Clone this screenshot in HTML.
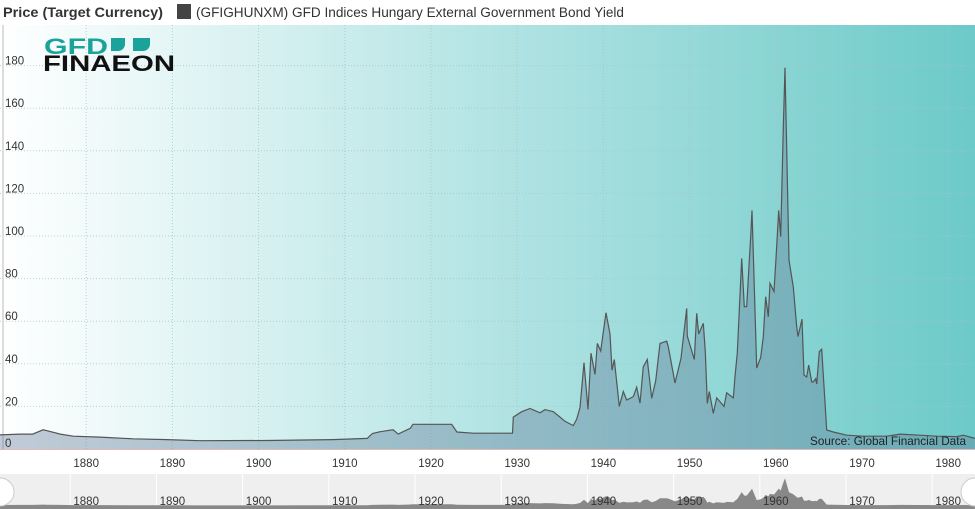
<!DOCTYPE html>
<html><head><meta charset="utf-8">
<style>
body{margin:0;width:975px;height:509px;overflow:hidden;background:#fff;font-family:"Liberation Sans",Verdana,sans-serif}
svg{display:block}
</style></head>
<body>
<svg id="chart" width="975" height="509" viewBox="0 0 975 509" xmlns="http://www.w3.org/2000/svg">
<defs>
<linearGradient id="bg" x1="0" y1="0" x2="1" y2="0">
<stop offset="0" stop-color="#ffffff"/>
<stop offset="0.5" stop-color="#b4e4e4"/>
<stop offset="1" stop-color="#6ccac8"/>
</linearGradient>
</defs>
<rect x="0" y="25" width="975" height="424" fill="url(#bg)"/>
<g id="grid"></g>
<rect x="2" y="25" width="2" height="424" fill="#ddd"/>
<g id="area"></g>
<line x1="0" y1="449.5" x2="975" y2="449.5" stroke="#e0b8b8" stroke-width="1"/>
<g id="ylabels"></g>
<g id="xlabels"></g>
<rect x="0" y="474" width="975" height="35" fill="#efefef"/>
<g id="nav"></g>
<circle cx="0" cy="492" r="14" fill="#fff" stroke="#ccc"/>
<circle cx="975" cy="492" r="14" fill="#fff" stroke="#ccc"/>
<text x="3" y="17" font-size="14" font-weight="bold" fill="#333" textLength="160" lengthAdjust="spacingAndGlyphs">Price (Target Currency)</text>
<rect x="177" y="4" width="14" height="15" fill="#444"/>
<text x="196" y="17" font-size="13.5" fill="#333" textLength="428" lengthAdjust="spacingAndGlyphs">(GFIGHUNXM) GFD Indices Hungary External Government Bond Yield</text>
<g>
<text x="44" y="54" font-size="22" font-weight="bold" fill="#1aa39a" textLength="64" lengthAdjust="spacingAndGlyphs">GFD</text>
<path d="M111 38 h14 v6 a7 7 0 0 1 -7 7 h-7z M133 38 h17 v6 a7 7 0 0 1 -7 7 h-10z" fill="#1aa39a"/>
<text x="43" y="71" font-size="22" font-weight="bold" fill="#111" textLength="132" lengthAdjust="spacingAndGlyphs">FINAEON</text>
</g>
<text x="810" y="445" font-size="12" fill="#222" textLength="156" lengthAdjust="spacingAndGlyphs">Source: Global Financial Data</text>
</svg>
<script>
const years=[1870,1872.3,1873.8,1875.0,1875.45,1877.0,1878.5,1881.6,1885.4,1889.4,1893.2,1901.0,1908.6,1912.6,1913.2,1914.1,1915.6,1916.2,1917.6,1917.9,1922.4,1923.0,1924.9,1929.45,1929.55,1930.52,1931.48,1932.65,1933.22,1934.19,1934.97,1935.55,1936.51,1936.90,1937.29,1937.75,1938.21,1938.56,1939.03,1939.29,1939.69,1940.30,1940.77,1941.00,1941.26,1941.84,1942.31,1942.70,1943.47,1943.86,1944.25,1944.63,1945.09,1945.60,1946.07,1946.57,1947.34,1947.53,1948.31,1949.00,1949.66,1949.73,1950.55,1950.82,1951.05,1951.59,1951.82,1952.05,1952.28,1952.75,1953.14,1953.99,1954.30,1955.07,1955.27,1955.53,1956.04,1956.35,1956.62,1957.09,1957.24,1957.78,1958.25,1958.55,1958.83,1959.13,1959.33,1959.79,1960.02,1960.34,1960.57,1960.87,1961.07,1961.53,1962.03,1962.42,1962.58,1963.04,1963.27,1963.58,1963.82,1964.16,1964.35,1964.63,1964.74,1965.05,1965.32,1965.90,1966.67,1968.22,1970.1,1972.87,1974.4,1976.7,1978.67,1980.99,1981.75,1983.1];
const values=[6.6,7,7,9,8.6,7,6,5.6,4.8,4.4,3.9,4,4.4,5,7.3,8.1,9,7,9.7,11.6,11.6,8,7.4,7.4,15,17.5,19,17,18.5,17.5,15,13,11,14,19.5,40.5,18.6,45,35,49.6,46,64,54,37,42,20,27,23,24.6,29,21.5,38.6,42,23.8,32,49.6,50.6,48,31,42.6,66,53,42,63.7,54,59,45.7,21.4,27,16.7,24,20,26.4,24,34,45,89.5,66.8,66.8,100,112,38,43,52.7,71.5,62,77.8,74,89.5,112,99.7,151,179,88.7,76,57.4,52.8,61,34.7,33.8,39.4,31.5,31.5,33,30.5,45.7,46.8,8.9,8,6.5,6,6,7,6.5,6,5.8,6.5,5,5];
const yTicks=[0,20,40,60,80,100,120,140,160,180];
const xTicks=[1880,1890,1900,1910,1920,1930,1940,1950,1960,1970,1980];
const NS="http://www.w3.org/2000/svg";
const X=y=>(y-1870)*8.62;
const Y=v=>449-v*2.13;
const NY=v=>506-v*0.155;
function mk(tag,attrs,parent){const e=document.createElementNS(NS,tag);for(const k in attrs)e.setAttribute(k,attrs[k]);parent.appendChild(e);return e;}
const grid=document.getElementById('grid'),area=document.getElementById('area'),yl=document.getElementById('ylabels'),xl=document.getElementById('xlabels'),nav=document.getElementById('nav');
yTicks.forEach(t=>{
 if(t>0){const g=mk('line',{x1:0,x2:975,y1:Y(t),y2:Y(t),stroke:'#a9c4c4','stroke-dasharray':'1,2','stroke-width':1,'stroke-opacity':0.8},grid);
 
 }
 const tx=mk('text',{x:5,y:t===0?447:Y(t)-1,'font-size':11.5,fill:'#333'},yl);tx.textContent=t;
 
 
});
xTicks.forEach(t=>{
 const g=mk('line',{x1:X(t),x2:X(t),y1:25,y2:449,stroke:'#a9c4c4','stroke-dasharray':'1,2','stroke-width':1,'stroke-opacity':0.8},grid);
 
 
 const tx=mk('text',{x:X(t),y:467,'font-size':11.5,fill:'#333','text-anchor':'middle'},xl);tx.textContent=t;
 
 
 const nl=mk('line',{x1:X(t)-16,x2:X(t)-16,y1:474,y2:509,stroke:'#fff','stroke-width':1},nav);
 
 
});
let line='',fill='';
years.forEach((yr,i)=>{line+=(i?'L':'M')+X(yr).toFixed(1)+' '+Y(values[i]).toFixed(1);});
fill=line+'L'+X(years[years.length-1]).toFixed(1)+' 449L'+X(years[0])+' 449Z';
const af=mk('path',{d:fill,fill:'rgba(100,125,155,0.4)'},area);


const al=mk('path',{d:line,fill:'none',stroke:'#555','stroke-width':1.2},area);


let nd='';
years.forEach((yr,i)=>{nd+=(i?'L':'M')+X(yr).toFixed(1)+' '+NY(values[i]).toFixed(1);});
nd+='L'+X(years[years.length-1]).toFixed(1)+' 509L0 509Z';
const na=mk('path',{d:nd,fill:'#888'},nav);


xTicks.forEach(t=>{
 const tx=mk('text',{x:X(t),y:505,'font-size':11.5,fill:'#333','text-anchor':'middle'},nav);tx.textContent=t;
 
 
});
</script>
</body></html>
